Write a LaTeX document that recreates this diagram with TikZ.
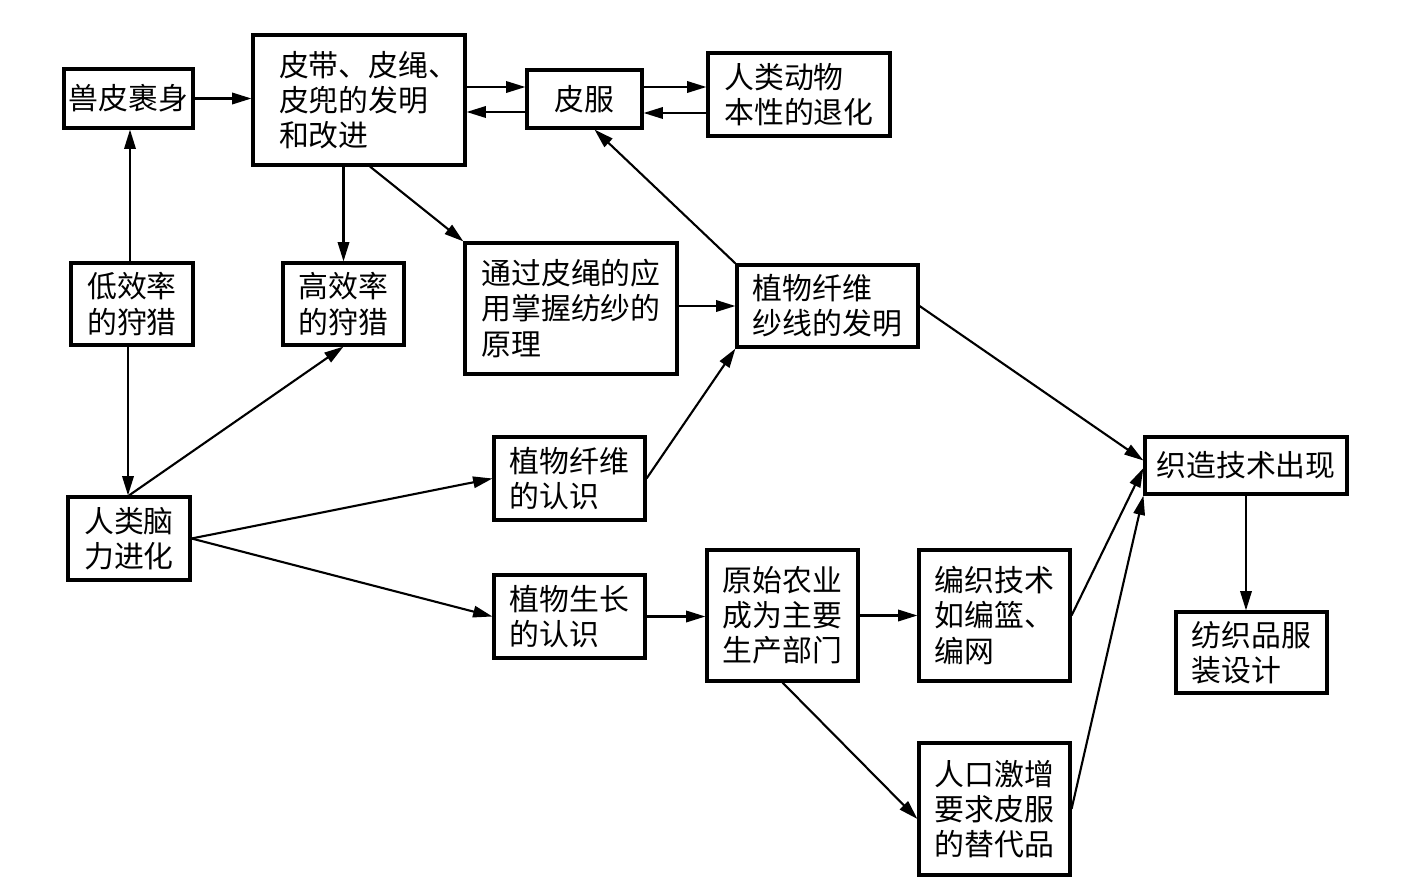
\documentclass[tikz,border=0pt]{standalone}
\usepackage{fontspec}
\newfontfamily\cjk{Noto Sans CJK SC}
\usetikzlibrary{arrows.meta,positioning,calc}

\begin{document}
\begin{tikzpicture}[x=0.02cm,y=-0.02cm,
        box/.style={draw,line width=1.8pt,align=left,inner sep=0pt,font=\cjk\fontsize{17}{20}\selectfont},
        arr/.style={line width=1.2pt,-{Triangle[length=11pt,width=6.5pt]}}]
        \useasboundingbox (0,0) rectangle (1401,892);

        % Skin stage
        \node[box,minimum width=2.58cm,minimum height=1.18cm] (skin) at (128.5,98.5) {兽皮裹身};
        \node[box,minimum width=4.24cm,minimum height=2.6cm,text width=3.2cm] (belt) at (359,100) {皮带、皮绳、\\皮兜的发明\\和改进};
        \node[box,minimum width=2.3cm,minimum height=1.16cm] (fur) at (584.5,99) {皮服};
        \node[box,minimum width=3.64cm,minimum height=1.66cm] (degen) at (799,94.5) {人类动物\\本性的退化};

        % Hunting
        \node[box,minimum width=2.44cm,minimum height=1.64cm] (lowhunt) at (132,304) {低效率\\的狩猎};
        \node[box,minimum width=2.42cm,minimum height=1.64cm] (highhunt) at (343.5,304) {高效率\\的狩猎};
        \node[box,minimum width=4.24cm,minimum height=2.62cm] (spin) at (571,308.5) {通过皮绳的应\\用掌握纺纱的\\原理};
        \node[box,minimum width=3.62cm,minimum height=1.64cm] (yarn) at (827.5,306) {植物纤维\\纱线的发明};

        % Brain and plants
        \node[box,minimum width=2.44cm,minimum height=1.66cm] (brain) at (129,538.5) {人类脑\\力进化};
        \node[box,minimum width=3.02cm,minimum height=1.66cm] (fiber) at (569.5,478.5) {植物纤维\\的认识};
        \node[box,minimum width=3.02cm,minimum height=1.66cm] (grow) at (569.5,616.5) {植物生长\\的认识};
        \node[box,minimum width=3.02cm,minimum height=2.62cm] (agri) at (782.5,615.5) {原始农业\\成为主要\\生产部门};
        \node[box,minimum width=3.02cm,minimum height=2.62cm] (knit) at (994.5,615.5) {编织技术\\如编篮、\\编网};
        \node[box,minimum width=3.02cm,minimum height=2.64cm] (pop) at (994.5,809) {人口激增\\要求皮服\\的替代品};

        % Weaving
        \node[box,minimum width=4.04cm,minimum height=1.14cm] (weave) at (1246,465.5) {织造技术出现};
        \node[box,minimum width=3.02cm,minimum height=1.62cm] (design) at (1251.5,652.5) {纺织品服\\装设计};

        % Arrows
        \draw[arr] (skin.east) -- (skin.east -| belt.west);
        \draw[arr] ([yshift=0.26cm]belt.east) -- ([yshift=0.26cm]belt.east -| fur.west);
        \draw[arr] ([yshift=-0.26cm]fur.west) -- ([yshift=-0.26cm]fur.west -| belt.east);
        \draw[arr] ([yshift=0.24cm]fur.east) -- ([yshift=0.24cm]fur.east -| degen.west);
        \draw[arr] ([yshift=-0.28cm]fur.east -| degen.west) -- ([yshift=-0.28cm]fur.east);
        \draw[arr] ([xshift=-0.04cm]lowhunt.north) -- ([xshift=-0.04cm]lowhunt.north |- skin.south);
        \draw[arr] ([xshift=-0.08cm]lowhunt.south) -- ([xshift=-0.08cm]lowhunt.south |- brain.north);
        \draw[arr] (brain.north) -- (highhunt.south);
        \draw[arr] (belt.south -| highhunt) -- (highhunt.north);
        \draw[arr] ([xshift=0.22cm]belt.south) -- (spin.north west);
        \draw[arr] (spin.east |- yarn) -- (yarn.west);
        \draw[arr] (yarn.north west) -- ([xshift=0.2cm]fur.south);
        \draw[arr] (fiber.east) -- (yarn.south west);
        \draw[arr] (brain.east) -- (fiber.west);
        \draw[arr] (brain.east) -- (grow.west);
        \draw[arr] (grow.east) -- (grow.east -| agri.west);
        \draw[arr] (agri.east) -- (knit.west);
        \draw[arr] (agri.south) -- ([yshift=-0.2cm]pop.west);
        \draw[arr] (yarn.east) -- ([yshift=0.1cm]weave.west);
        \draw[arr] (knit.east) -- ([yshift=-0.05cm]weave.west);
        \draw[arr] (pop.east) -- (weave.south west);
        \draw[arr] (weave.south) -- (weave.south |- design.north);
\end{tikzpicture}
\end{document}
